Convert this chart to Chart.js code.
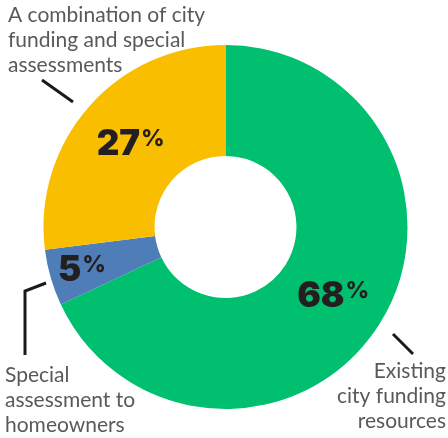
<!DOCTYPE html>
<html><head><meta charset="utf-8">
<script src="https://cdn.jsdelivr.net/npm/chart.js@4.4.0/dist/chart.umd.min.js"></script>
<style>html,body{margin:0;padding:0;background:#fff;}#wrap{width:448px;height:438px;position:relative;}</style>
</head><body><div id="wrap"><canvas id="c" width="448" height="438"></canvas></div>
<script>
const categories = ["Existing city funding resources", "Special assessment to homeowners", "A combination of city funding and special assessments"];
const values = [68, 5, 27];
const colors = ["#00BF6F", "#4E7DB7", "#F9BE00"];
const labelLines = [["Existing", "city funding", "resources"], ["Special", "assessment to", "homeowners"], ["A combination of city", "funding and special", "assessments"]];

const pctPlugin = {
  id: 'pct',
  afterDatasetsDraw(chart) {
    const ctx = chart.ctx;
    const meta = chart.getDatasetMeta(0);
    const radii = [127, 150, 127];
    meta.data.forEach((arc, i) => {
      const p = arc.getProps(['x','y','startAngle','endAngle'], true);
      const mid = (p.startAngle + p.endAngle) / 2;
      const cx = p.x + Math.cos(mid) * radii[i];
      const cy = p.y + Math.sin(mid) * radii[i];
      const num = String(values[i]);
      ctx.save();
      ctx.fillStyle = '#231F20';
      ctx.font = '900 35px Inter';
      const wn = ctx.measureText(num).width;
      ctx.font = '800 23px Inter';
      const wp = ctx.measureText('%').width;
      const total = wn + wp;
      const left = cx - total / 2;
      const base = cy + 12;
      ctx.textBaseline = 'alphabetic';
      ctx.textAlign = 'left';
      ctx.font = '900 35px Inter';
      ctx.fillText(num, left, base);
      ctx.font = '800 23px Inter';
      ctx.fillText('%', left + wn + 1, base - 9);
      ctx.restore();
    });
  },
  afterDraw(chart) {
    const ctx = chart.ctx;
    ctx.save();
    ctx.fillStyle = '#595959';
    ctx.font = '21px Lato';
    ctx.textBaseline = 'alphabetic';
    ctx.textAlign = 'left';
    labelLines[2].forEach((t, k) => ctx.fillText(t, 8, 22 + k * 25));
    labelLines[1].forEach((t, k) => ctx.fillText(t, 5, 382 + k * 25));
    ctx.textAlign = 'right';
    labelLines[0].forEach((t, k) => ctx.fillText(t, 446, 378 + k * 25));
    ctx.strokeStyle = '#1a1a1a';
    ctx.lineWidth = 3;
    ctx.beginPath();
    ctx.moveTo(42, 80); ctx.lineTo(73, 102);
    ctx.moveTo(46, 283); ctx.lineTo(25, 291); ctx.lineTo(25, 355);
    ctx.moveTo(393, 334); ctx.lineTo(413, 354);
    ctx.stroke();
    ctx.restore();
  }
};

new Chart(document.getElementById('c'), {
  type: 'doughnut',
  data: { labels: categories, datasets: [{ data: values, backgroundColor: colors, borderWidth: 0 }] },
  options: {
    responsive: false,
    animation: false,
    cutout: '39%',
    layout: { padding: { left: 43.5, right: 40.5, top: 45, bottom: 29 } },
    plugins: { legend: { display: false }, tooltip: { enabled: false } }
  },
  plugins: [pctPlugin]
});
</script></body></html>
